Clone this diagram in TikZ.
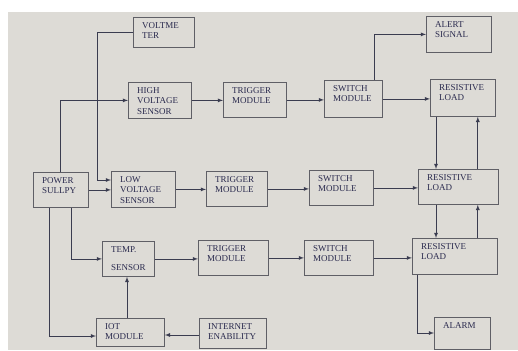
\documentclass[tikz,border=0pt]{standalone}
\usepackage{fontspec}
\setmainfont{Liberation Serif}
\usetikzlibrary{arrows,calc,positioning}

\definecolor{bggray}{RGB}{221,219,214}
\definecolor{boxgray}{RGB}{95,95,102}
\definecolor{wiregray}{RGB}{58,60,80}
\definecolor{inkblue}{RGB}{42,42,78}

\tikzset{
  blk/.style={draw=boxgray, line width=0.8pt, anchor=north west, inner sep=0pt},
  lbl/.style={anchor=north west, align=left, inner sep=0pt, xshift=9pt, yshift=-5pt,
    text=inkblue, font=\fontsize{9}{10.5}\selectfont},
  flow/.style={draw=wiregray, line width=0.8pt, -latex}
}

\begin{document}
\begin{tikzpicture}[x=1pt,y=-1pt]
      \useasboundingbox (0,0) rectangle (518,350);
      \fill[bggray] (8,12) rectangle (518,350);
      % blocks
      \node[blk, minimum width=55pt, minimum height=35pt, label={[lbl]north west:{POWER\\SULLPY}}] (pwr) at (33,172) {};
      \node[blk, minimum width=61pt, minimum height=30pt, label={[lbl]north west:{VOLTME\\TER}}] (vm) at (133,17) {};
      \node[blk, minimum width=63pt, minimum height=36pt, label={[lbl]north west:{HIGH\\VOLTAGE\\SENSOR}}] (hv) at (128,82) {};
      \node[blk, minimum width=63pt, minimum height=35pt, label={[lbl]north west:{TRIGGER\\MODULE}}] (tr1) at (223,82) {};
      \node[blk, minimum width=58pt, minimum height=37pt, label={[lbl]north west:{SWITCH\\MODULE}}] (sw1) at (324,80) {};
      \node[blk, minimum width=65pt, minimum height=36pt, label={[lbl]north west:{ALERT\\SIGNAL}}] (al) at (426,16) {};
      \node[blk, minimum width=65pt, minimum height=37pt, label={[lbl]north west:{RESISTIVE\\LOAD}}] (rl1) at (430,79) {};
      \node[blk, minimum width=64pt, minimum height=36pt, label={[lbl]north west:{LOW\\VOLTAGE\\SENSOR}}] (lv) at (111,171) {};
      \node[blk, minimum width=61pt, minimum height=35pt, label={[lbl]north west:{TRIGGER\\MODULE}}] (tr2) at (206,171) {};
      \node[blk, minimum width=64pt, minimum height=35pt, label={[lbl]north west:{SWITCH\\MODULE}}] (sw2) at (309,170) {};
      \node[blk, minimum width=80pt, minimum height=35pt, label={[lbl]north west:{RESISTIVE\\LOAD}}] (rl2) at (418,169) {};
      \node[blk, minimum width=52pt, minimum height=35pt, label={[lbl]north west:{TEMP.\\[8pt]SENSOR}}] (tp) at (102,241) {};
      \node[blk, minimum width=70pt, minimum height=35pt, label={[lbl]north west:{TRIGGER\\MODULE}}] (tr3) at (198,240) {};
      \node[blk, minimum width=69pt, minimum height=35pt, label={[lbl]north west:{SWITCH\\MODULE}}] (sw3) at (304,240) {};
      \node[blk, minimum width=85pt, minimum height=36pt, label={[lbl]north west:{RESISTIVE\\LOAD}}] (rl3) at (412,238) {};
      \node[blk, minimum width=68pt, minimum height=28pt, label={[lbl]north west:{IOT\\MODULE}}] (iot) at (96,318) {};
      \node[blk, minimum width=67pt, minimum height=30pt, label={[lbl]north west:{INTERNET\\ENABILITY}}] (ie) at (199,318) {};
      \node[blk, minimum width=56pt, minimum height=32pt, label={[lbl]north west:{ALARM}}] (alm) at (434,317) {};
      % top row
      \draw[flow] (vm.west) -- ++(-36,0) |- ([yshift=-9pt]lv.north west);
      \draw[flow] ([xshift=27pt]pwr.north west) |- (hv.west);
      \draw[flow] (hv.east) -- (hv.east -| tr1.west);
      \draw[flow] (tr1.east) -- (tr1.east -| sw1.west);
      \draw[flow] (sw1.east) -- (sw1.east -| rl1.west);
      \draw[flow] ([xshift=-8pt]sw1.north east) |- (al.west);
      % middle row
      \draw[flow] (pwr.east) -- (pwr.east -| lv.west);
      \draw[flow] (lv.east) -- (lv.east -| tr2.west);
      \draw[flow] (tr2.east) -- (tr2.east -| sw2.west);
      \draw[flow] (sw2.east) -- (sw2.east -| rl2.west);
      % loads
      \draw[flow] ([xshift=6pt]rl1.south west) -- ([xshift=6pt]rl1.south west |- rl2.north);
      \draw[flow] ([xshift=-21pt]rl2.north east) -- ([xshift=-21pt]rl2.north east |- rl1.south);
      \draw[flow] ([xshift=18pt]rl2.south west) -- ([xshift=18pt]rl2.south west |- rl3.north);
      \draw[flow] ([xshift=-20pt]rl3.north east) -- ([xshift=-20pt]rl3.north east |- rl2.south);
      \draw[flow] ([xshift=5pt]rl3.south west) |- ([yshift=-16pt]alm.north west);
      % bottom rows
      \draw[flow] ([xshift=38pt]pwr.south west) |- (tp.west);
      \draw[flow] ([xshift=16pt]pwr.south west) |- ([yshift=-18pt]iot.north west);
      \draw[flow] (tp.east) -- (tp.east -| tr3.west);
      \draw[flow] (tr3.east) -- (tr3.east -| sw3.west);
      \draw[flow] (sw3.east) -- (sw3.east -| rl3.west);
      \draw[flow] ([xshift=31pt]iot.north west) -- ([xshift=31pt]iot.north west |- tp.south);
      \draw[flow] ([yshift=-17pt]ie.north west) -- ([yshift=-17pt]ie.north west -| iot.east);
\end{tikzpicture}
\end{document}
